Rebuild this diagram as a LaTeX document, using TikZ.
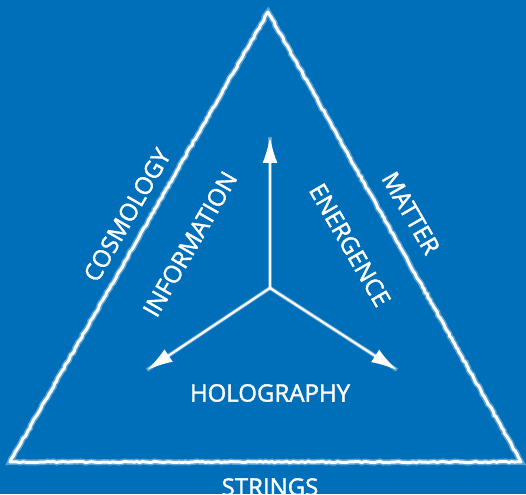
\documentclass[tikz,border=0pt]{standalone}
\usepackage{fontspec}
\setmainfont{Open Sans}
\newfontfamily\chalkfont{Open Sans}[FakeBold=1.6]
\usetikzlibrary{arrows.meta, positioning, calc, decorations.pathmorphing}
\definecolor{boardblue}{RGB}{0,111,186}

\begin{document}
\begin{tikzpicture}[
        x=1pt, y=1pt,
        chalk/.style={draw=white, line width=3pt, line join=round, line cap=round,
            preaction={draw=white, draw opacity=0.35, line width=6pt},
            decorate, decoration={random steps, segment length=3pt, amplitude=0.6pt}},
        chalkarrow/.style={-{Latex[length=26pt, width=15pt]}, draw=white, line width=2.2pt,
            preaction={draw=white, draw opacity=0.35, line width=4pt, -}},
        word/.style={text=white, font=\chalkfont\fontsize{24}{27}\selectfont, inner sep=0pt}
    ]
        \fill[boardblue] (0,0) rectangle (526,-494);
        \useasboundingbox (0,0) rectangle (526,-494);
        % corners and hub
        \coordinate (apex) at (268,-12);
        \coordinate (lcorner) at (10,-462);
        \coordinate (rcorner) at (521,-462);
        \coordinate (hub) at (270,-288);
        \coordinate (uptip) at (270,-137);
        \coordinate (lefttip) at (147,-370);
        \coordinate (righttip) at (397,-370);
        % triangle
        \draw[chalk] (apex) -- (rcorner) -- (lcorner) -- cycle;
        % arrows
        \draw[chalkarrow] (hub) -- (uptip);
        \draw[chalkarrow] (hub) -- (lefttip);
        \draw[chalkarrow] (hub) -- (righttip);
        % labels
        \node[word, rotate=60] (cosmo) at (127,-215) {COSMOLOGY};
        \node[word, rotate=60] (info) at (190,-244) {INFORMATION};
        \node[word, rotate=-60] (matter) at (411,-213) {MATTER};
        \node[word, rotate=-60] (emerg) at (350,-245) {ENERGENCE};
        \node[word] (holo) at (270,-393) {HOLOGRAPHY};
        \node[word] (strings) at (270,-487) {STRINGS};
    \end{tikzpicture}
\end{document}
